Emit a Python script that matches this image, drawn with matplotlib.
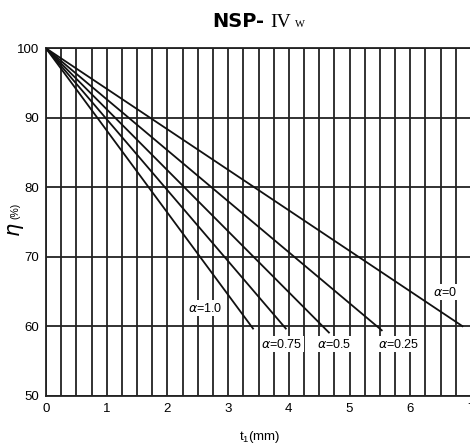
import numpy as np
import matplotlib
matplotlib.use("Agg")
import matplotlib.pyplot as plt

# efficiency lines, all starting at (0, 100)
alphas = ["0", "0.25", "0.5", "0.75", "1.0"]
t_end = [6.86, 5.53, 4.66, 3.95, 3.41]
eta_end = [59.99, 59.4, 59.08, 59.65, 59.65]

# label positions (t, eta)
label_t = [6.58, 5.81, 4.74, 3.88, 2.63]
label_eta = [64.9, 57.4, 57.4, 57.4, 62.6]

x_ticks = [0, 1, 2, 3, 4, 5, 6, 7]
y_ticks = [50, 60, 70, 80, 90, 100]

plt.rcParams["font.family"] = ["Liberation Sans", "DejaVu Sans"]

fig = plt.figure(figsize=(4.7, 4.48), dpi=100)
ax = fig.add_axes([46 / 470, 52.4 / 448, 425 / 470, 347.3 / 448])

ax.set_xlim(0, 7)
ax.set_ylim(50, 100)

# grid: every 0.25 mm across, every 10 % up
for t in np.arange(0, 7.01, 0.25):
    ax.axvline(t, color="#222222", lw=1.3, zorder=1)
for e in y_ticks:
    ax.axhline(e, color="#222222", lw=1.3, zorder=1)

for a, te, ee, lt, le in zip(alphas, t_end, eta_end, label_t, label_eta):
    ax.plot([0, te], [100, ee], color="#111111", lw=1.3, zorder=3)
    ax.text(lt, le, r"$\alpha$=" + a, ha="center", va="center", fontsize=9,
            zorder=4, bbox=dict(facecolor="white", edgecolor="none", pad=1.0))

for s in ax.spines.values():
    s.set_linewidth(1.3)
    s.set_color("#222222")

ax.set_xticks(x_ticks)
ax.set_yticks(y_ticks)
ax.tick_params(length=0, labelsize=9.5, pad=5)

fig.text(260 / 470, 1 - 440 / 448, r"t$_\mathregular{1}$(mm)", fontsize=9.5,
         ha="center", va="baseline")

# y axis label
fig.text(16 / 470, 1 - 230 / 448, r"$\eta$", fontsize=15, rotation=90,
         ha="center", va="center", fontweight="bold", style="italic")
fig.text(15 / 470, 1 - 211 / 448, "(%)", fontsize=7.5, rotation=90,
         ha="center", va="center")

# title
fig.text(212 / 470, 1 - 27 / 448, "NSP-", fontsize=14, fontweight="bold",
         family="DejaVu Sans", ha="left", va="baseline")
fig.text(270 / 470, 1 - 27 / 448, "IV", fontsize=14, family="Liberation Serif",
         ha="left", va="baseline")
fig.text(295 / 470, 1 - 27 / 448, "W", fontsize=7.6, family="Liberation Serif",
         ha="left", va="baseline")

fig.savefig("out.png", dpi=100)
